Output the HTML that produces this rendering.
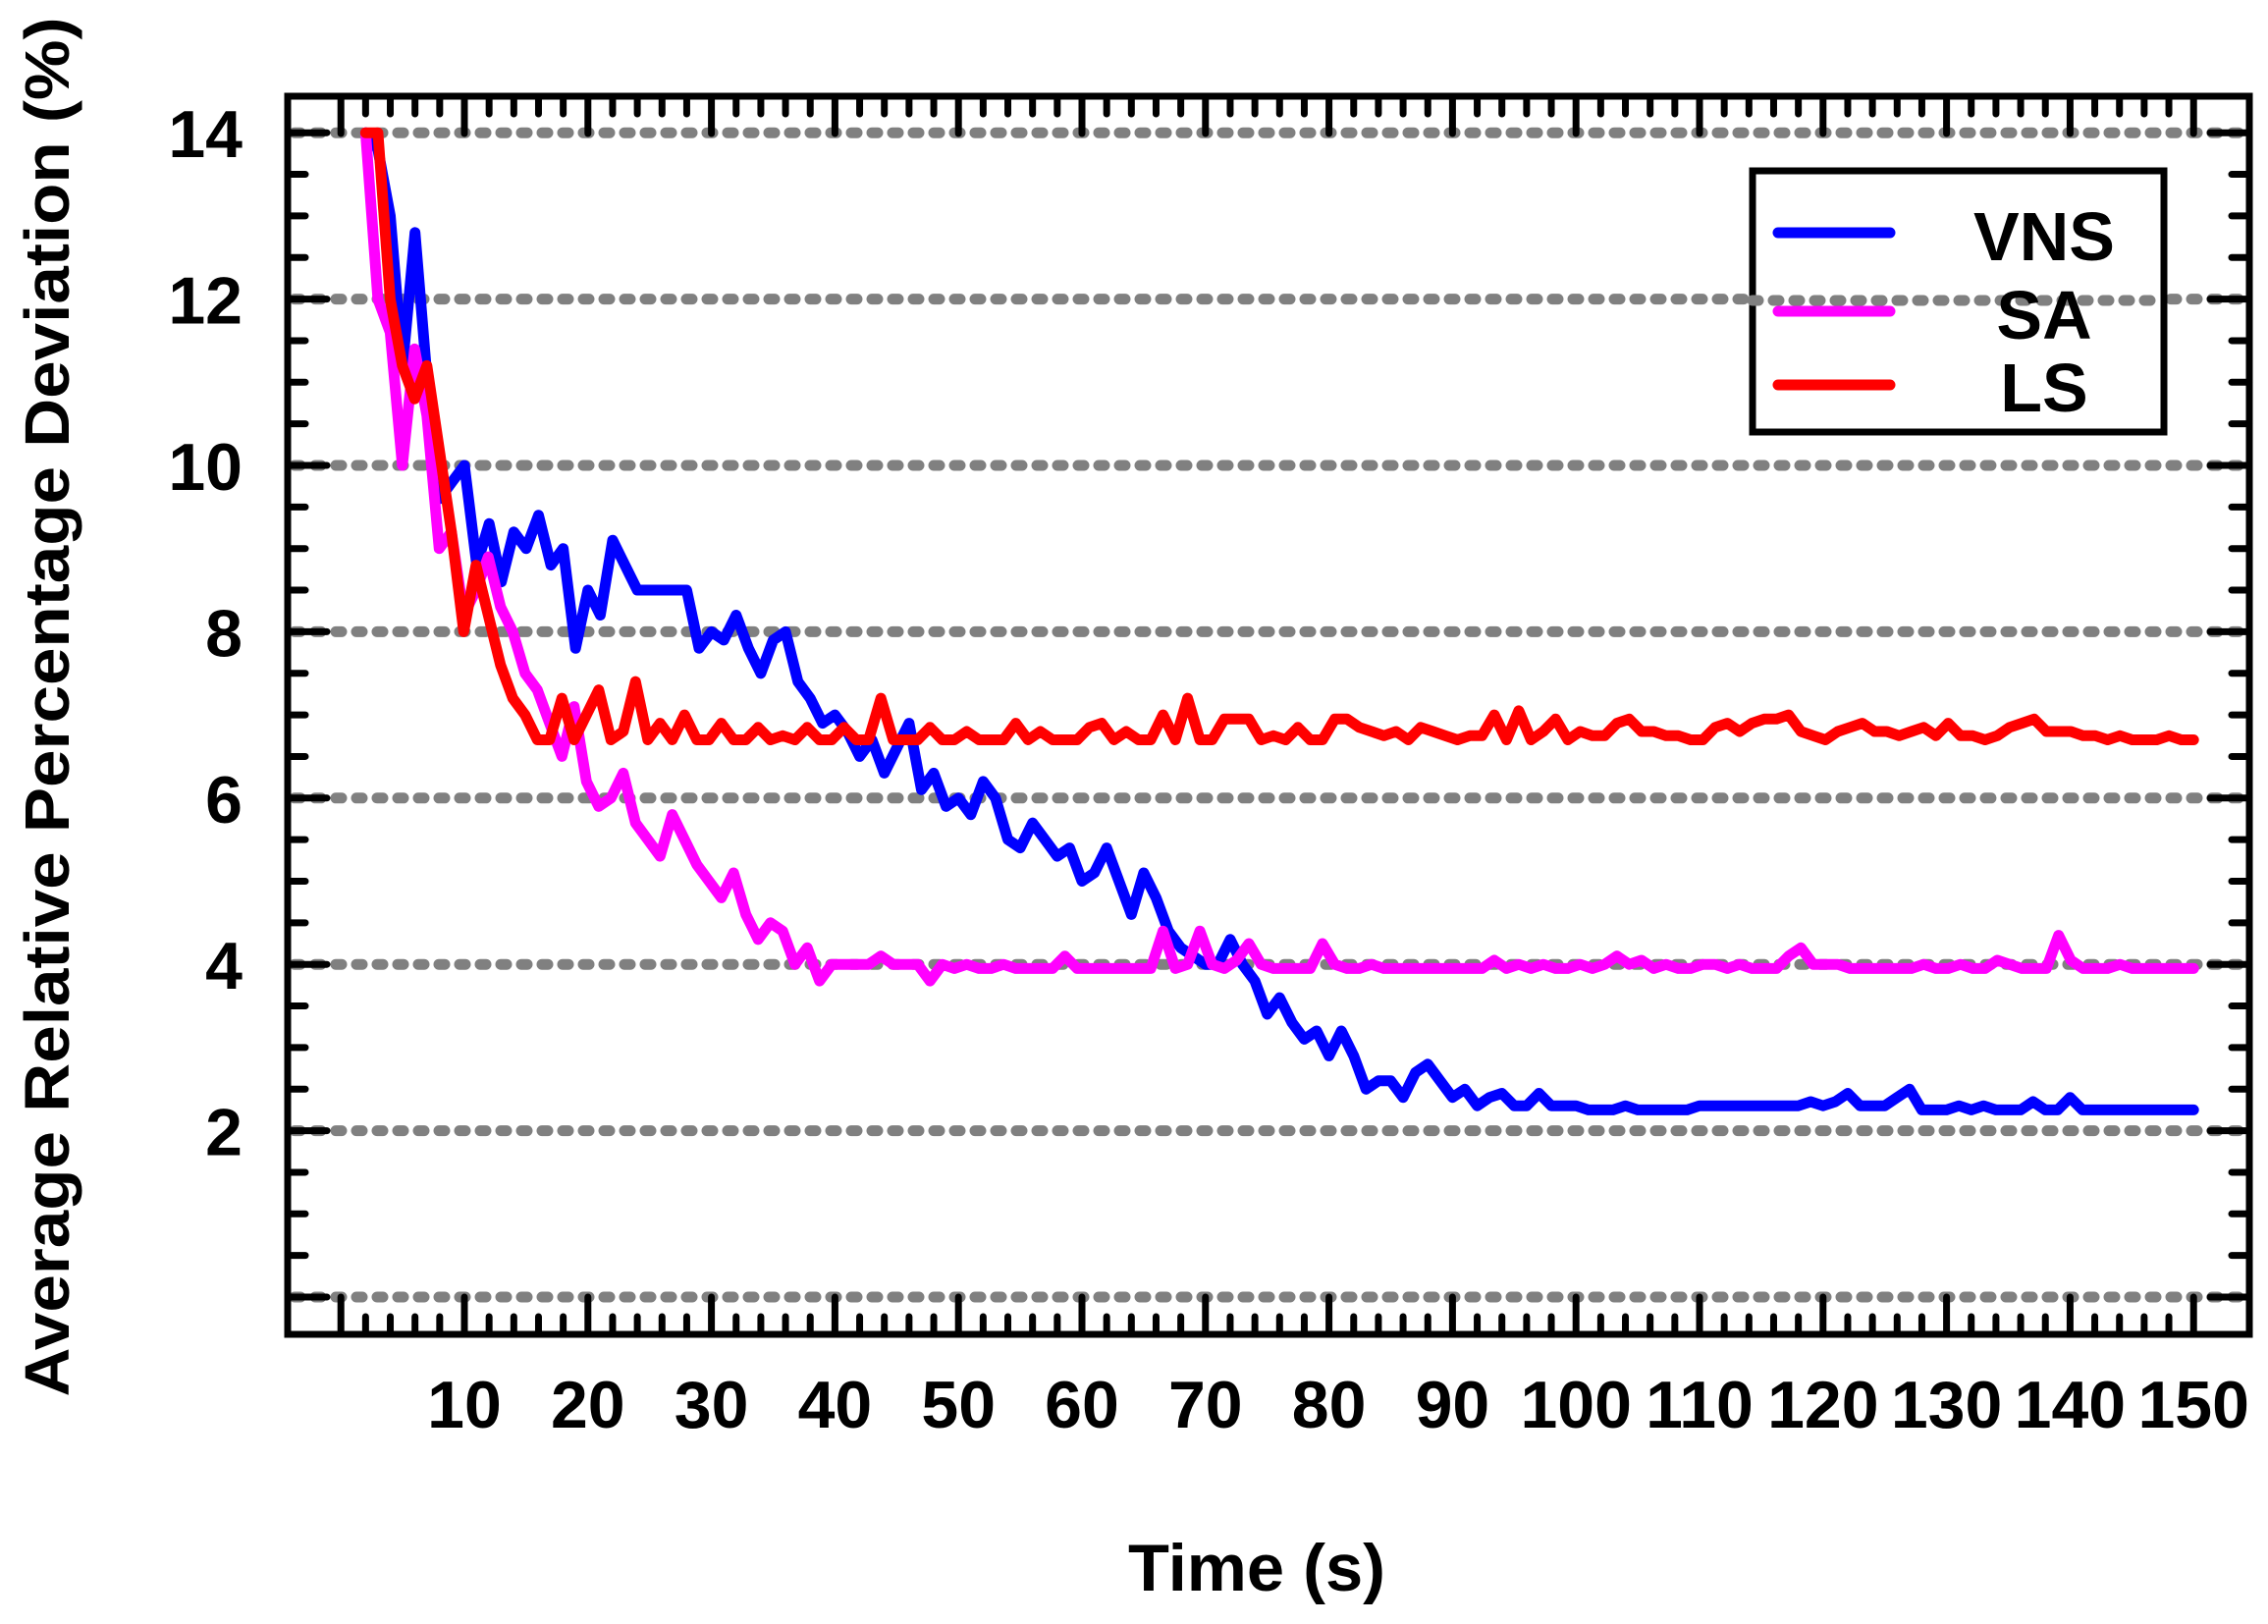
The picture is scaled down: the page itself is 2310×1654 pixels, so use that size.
<!DOCTYPE html>
<html><head><meta charset="utf-8"><style>
html,body{margin:0;padding:0;background:#fff;}
svg{display:block;}
text{font-family:"Liberation Sans",Arial,sans-serif;font-weight:bold;fill:#000;}
</style></head><body>
<svg id="s" width="2310" height="1654" viewBox="0 0 2310 1654" xmlns="http://www.w3.org/2000/svg">
<g id="grid" stroke="#808080" stroke-width="11" stroke-dasharray="6 15" stroke-linecap="round"></g>
<g id="ticks" stroke="#000" stroke-width="7" stroke-linecap="round"></g>
<g id="series" fill="none" stroke-width="11" stroke-linejoin="round" stroke-linecap="round"></g>
<rect x="293" y="98" width="1998" height="1261" fill="none" stroke="#000" stroke-width="7"/>
<g id="labels" font-size="68"></g>
<rect x="1785" y="174" width="419" height="266" fill="#fff" stroke="#000" stroke-width="7"/>
<g stroke-width="11" stroke-linecap="round">
<line x1="1811" y1="237" x2="1925" y2="237" stroke="#0000ff"/>
<line x1="1811" y1="392" x2="1925" y2="392" stroke="#ff0000"/>
</g>
<line x1="1785" y1="306" x2="2204" y2="306" stroke="#808080" stroke-width="11" stroke-dasharray="6 15" stroke-linecap="round"/>
<line x1="1811" y1="317" x2="1925" y2="317" stroke="#ff00ff" stroke-width="11" stroke-linecap="round"/>
<text x="2082" y="265" font-size="70" text-anchor="middle">VNS</text>
<text x="2082" y="345" font-size="70" text-anchor="middle">SA</text>
<text x="2082" y="419" font-size="70" text-anchor="middle">LS</text>
<text x="1280" y="1620" font-size="68" text-anchor="middle" textLength="262" lengthAdjust="spacingAndGlyphs">Time (s)</text>
<text transform="translate(70,720) rotate(-90)" font-size="64" text-anchor="middle" textLength="1405" lengthAdjust="spacingAndGlyphs">Average Relative Percentage Deviation (%)</text>
</svg>
<script>
var NS="http://www.w3.org/2000/svg";
function X(t){return 473+(t-10)*12.58;}
function Y(v){return 1321-84.7*v;}
function el(p,tag,a,txt){var e=document.createElementNS(NS,tag);for(var k in a)e.setAttribute(k,a[k]);if(txt!==undefined)e.textContent=txt;document.getElementById(p).appendChild(e);return e;}
for(var v=0;v<=14;v+=2){el("grid","line",{x1:300,y1:Y(v),x2:2288,y2:Y(v)});}
for(var i=0;i<=29;i++){var v=i/2,y=Y(v);if(y<100)continue;var L=(i%4==0)?40:18;
el("ticks","line",{x1:293,y1:y,x2:293+L,y2:y});el("ticks","line",{x1:2291,y1:y,x2:2291-L,y2:y});}
for(var t=0;t<=150;t+=2){var x=X(t);if(x<296||x>2290)continue;var L=(t%10==0)?38:18;
el("ticks","line",{x1:x,y1:1359,x2:x,y2:1359-L});el("ticks","line",{x1:x,y1:98,x2:x,y2:98+L});}
for(var v=2;v<=14;v+=2){el("labels","text",{x:247,y:Y(v)+25,"text-anchor":"end"},String(v));}
for(var t=10;t<=150;t+=10){el("labels","text",{x:X(t),y:1454,"text-anchor":"middle"},String(t));}
var vns=[14,13.8,13.0,11.2,12.8,11.0,9.6,9.8,10.0,8.8,9.3,8.6,9.2,9.0,9.4,8.8,9.0,7.8,8.5,8.2,9.1,8.8,8.5,8.5,8.5,8.5,8.5,7.8,8.0,7.9,8.2,7.8,7.5,7.9,8.0,7.4,7.2,6.9,7.0,6.8,6.5,6.7,6.3,6.6,6.9,6.1,6.3,5.9,6.0,5.8,6.2,6.0,5.5,5.4,5.7,5.5,5.3,5.4,5.0,5.1,5.4,5.0,4.6,5.1,4.8,4.4,4.2,4.1,4.0,4.0,4.3,4.0,3.8,3.4,3.6,3.3,3.1,3.2,2.9,3.2,2.9,2.5,2.6,2.6,2.4,2.7,2.8,2.6,2.4,2.5,2.3,2.4,2.45,2.3,2.3,2.45,2.3,2.3,2.3,2.25,2.25,2.25,2.3,2.25,2.25,2.25,2.25,2.25,2.3,2.3,2.3,2.3,2.3,2.3,2.3,2.3,2.3,2.35,2.3,2.35,2.45,2.3,2.3,2.3,2.4,2.5,2.25,2.25,2.25,2.3,2.25,2.3,2.25,2.25,2.25,2.35,2.25,2.25,2.4,2.25,2.25,2.25,2.25,2.25,2.25,2.25,2.25,2.25,2.25];
var sa=[14,12,11.6,10.0,11.4,10.6,9.0,9.2,8.2,8.5,8.9,8.3,8.0,7.5,7.3,6.9,6.5,7.1,6.2,5.9,6.0,6.3,5.7,5.5,5.3,5.8,5.5,5.2,5.0,4.8,5.1,4.6,4.3,4.5,4.4,4.0,4.2,3.8,4.0,4.0,4.0,4.0,4.1,4.0,4.0,4.0,3.8,4.0,3.95,4.0,3.95,3.95,4.0,3.95,3.95,3.95,3.95,4.1,3.95,3.95,3.95,3.95,3.95,3.95,3.95,4.4,3.95,4.0,4.4,4.0,3.95,4.05,4.25,4.0,3.95,3.95,3.95,3.95,4.25,4.0,3.95,3.95,4.0,3.95,3.95,3.95,3.95,3.95,3.95,3.95,3.95,3.95,4.05,3.95,4.0,3.95,4.0,3.95,3.95,4.0,3.95,4.0,4.1,4.0,4.05,3.95,4.0,3.95,3.95,4.0,4.0,3.95,4.0,3.95,3.95,3.95,4.1,4.2,4.0,4.0,4.0,3.95,3.95,3.95,3.95,3.95,3.95,4.0,3.95,3.95,4.0,3.95,3.95,4.05,4.0,3.95,3.95,3.95,4.35,4.05,3.95,3.95,3.95,4.0,3.95,3.95,3.95,3.95,3.95,3.95];
var ls=[14,14,12.0,11.2,10.8,11.2,10.2,9.2,8.0,8.8,8.2,7.6,7.2,7.0,6.7,6.7,7.2,6.7,7.0,7.3,6.7,6.8,7.4,6.7,6.9,6.7,7.0,6.7,6.7,6.9,6.7,6.7,6.85,6.7,6.75,6.7,6.85,6.7,6.7,6.85,6.7,6.7,7.2,6.7,6.7,6.7,6.85,6.7,6.7,6.8,6.7,6.7,6.7,6.9,6.7,6.8,6.7,6.7,6.7,6.85,6.9,6.7,6.8,6.7,6.7,7.0,6.7,7.2,6.7,6.7,6.95,6.95,6.95,6.7,6.75,6.7,6.85,6.7,6.7,6.95,6.95,6.85,6.8,6.75,6.8,6.7,6.85,6.8,6.75,6.7,6.75,6.75,7.0,6.7,7.05,6.7,6.8,6.95,6.7,6.8,6.75,6.75,6.9,6.95,6.8,6.8,6.75,6.75,6.7,6.7,6.85,6.9,6.8,6.9,6.95,6.95,7.0,6.8,6.75,6.7,6.8,6.85,6.9,6.8,6.8,6.75,6.8,6.85,6.75,6.9,6.75,6.75,6.7,6.75,6.85,6.9,6.95,6.8,6.8,6.8,6.75,6.75,6.7,6.75,6.7,6.7,6.7,6.75,6.7,6.7];
function poly(d,c){var p=[],n=d.length;for(var i=0;i<n;i++){var t=2+i*148/(n-1);p.push(X(t).toFixed(1)+","+Y(d[i]).toFixed(1));}
el("series","polyline",{points:p.join(" "),stroke:c});}
poly(vns,"#0000ff");poly(sa,"#ff00ff");poly(ls,"#ff0000");
</script>
</body></html>
